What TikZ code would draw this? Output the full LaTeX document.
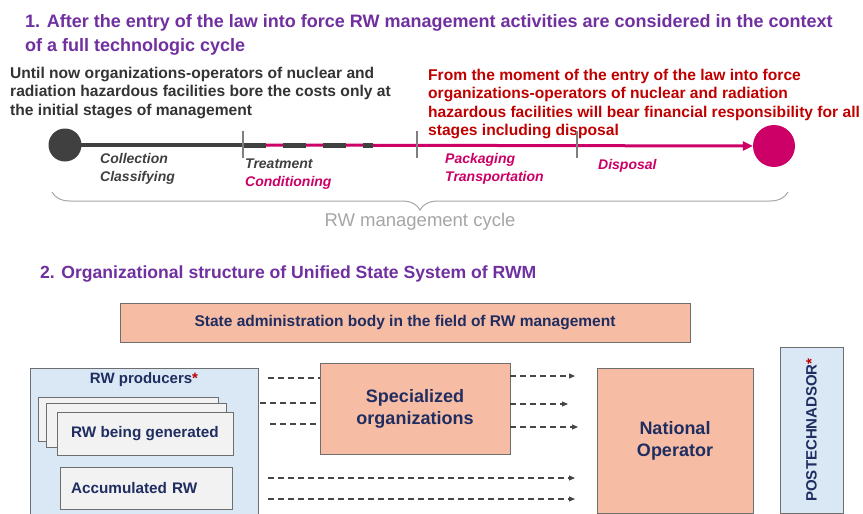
\documentclass[tikz,border=0pt]{standalone}
\usepackage{fontspec}
\setmainfont{Liberation Sans}
\usetikzlibrary{arrows.meta, positioning, decorations.pathreplacing}

\definecolor{titlepurple}{RGB}{112,48,160}
\definecolor{notegray}{RGB}{51,51,51}
\definecolor{lawred}{RGB}{192,0,0}
\definecolor{cyclepink}{RGB}{204,0,102}
\definecolor{stagegray}{RGB}{64,64,64}
\definecolor{tickgray}{RGB}{127,127,127}
\definecolor{bracegray}{RGB}{166,166,166}
\definecolor{navytext}{RGB}{31,45,96}
\definecolor{salmonfill}{RGB}{246,188,164}
\definecolor{paleblue}{RGB}{218,232,245}
\definecolor{palegray}{RGB}{242,242,242}
\definecolor{boxline}{RGB}{110,110,110}
\definecolor{flowgray}{RGB}{70,70,70}

\begin{document}
\begin{tikzpicture}[
    x=1pt, y=-1pt,
    heading/.style={anchor=north west, align=left, inner sep=0pt, text=titlepurple, font=\fontsize{18}{24}\selectfont\bfseries},
    note/.style={anchor=north west, align=left, inner sep=0pt, font=\fontsize{15.6}{18.4}\selectfont\bfseries},
    stage/.style={anchor=north west, align=left, inner sep=0pt, font=\fontsize{14}{18}\selectfont\bfseries\itshape},
    tickmark/.style={draw=tickgray, line width=2pt},
    orgbox/.style={rectangle, draw=boxline, fill=salmonfill, line width=0.8pt, text=navytext, align=center, font=\fontsize{18}{22}\selectfont\bfseries},
    groupbox/.style={rectangle, draw=boxline, fill=paleblue, line width=0.8pt},
    wastebox/.style={rectangle, draw=boxline, fill=palegray, line width=0.8pt, text=navytext, font=\fontsize{15.3}{17}\selectfont\bfseries},
    flow/.style={draw=flowgray, line width=1.1pt, dash pattern=on 6pt off 4pt},
    flowarrow/.style={flow, -{Triangle[length=6pt, width=5pt]}}
]
\path[use as bounding box, fill=white] (0,0) rectangle (863,514);

% Part 1: full cycle
\node[heading] (title1) at (25,14) {1. After the entry of the law into force RW management activities are considered in the context\\of a full technologic cycle};

\node[note, text=notegray] (before) at (10,67) {Until now organizations-operators of nuclear and\\radiation hazardous facilities bore the costs only at\\the initial stages of management};
\node[note, text=lawred] (after) at (428,69) {From the moment of the entry of the law into force\\organizations-operators of nuclear and radiation\\hazardous facilities will bear financial responsibility for all\\stages including disposal};

% Timeline
\node[circle, fill=stagegray, minimum size=33pt, inner sep=0pt] (startdot) at (65,145) {};
\node[circle, fill=cyclepink, minimum size=42pt, inner sep=0pt] (enddot) at (774,146) {};
\coordinate (t1) at (243,145);
\coordinate (t2) at (417,145);
\coordinate (t3) at (577,145);
\coordinate (dashend) at (373,145);

\draw[stagegray, line width=4.5pt] (startdot.center) -- (t1);
\draw[cyclepink, line width=3pt, -{Triangle[length=10pt, width=9pt]}] (t1) -- (enddot.west);
\draw[stagegray, line width=5pt, dash pattern=on 23pt off 17pt] (t1) -- (dashend);
\foreach \n in {t1, t2, t3}
    \draw[tickmark] ([yshift=14pt]\n) -- ([yshift=-13pt]\n);

\node[stage, text=stagegray] (collect) at (100,153) {Collection\\Classifying};
\node[stage, text=stagegray] (treat) at (245,159) {Treatment\\\textcolor{cyclepink}{Conditioning}};
\node[stage, text=cyclepink] (pack) at (445,153) {Packaging\\Transportation};
\node[stage, text=cyclepink] (dispose) at (598,159) {Disposal};

% Brace
\draw[bracegray, line width=1pt, decorate, decoration={brace, mirror, amplitude=18pt}] (52,192) -- (788,192);
\node[text=bracegray, font=\fontsize{18.5}{20}\selectfont] (cyclelabel) at (420,222) {RW management cycle};

% Part 2: organizational structure
\node[heading, font=\fontsize{17.6}{22}\selectfont\bfseries] (title2) at (40,266) {2. Organizational structure of Unified State System of RWM};

\node[orgbox, minimum width=570pt, minimum height=39pt, font=\fontsize{15.5}{17}\selectfont\bfseries] (stateadm) at (405,322.5) {State administration body in the field of RW management};

\node[groupbox, minimum width=228pt, minimum height=152pt] (producers) at (144,444) {};
\node[below=1pt of producers.north, text=navytext, font=\fontsize{15}{17}\selectfont\bfseries] (prodtitle) {RW producers\textcolor{lawred}{*}};
\node[wastebox, minimum width=180pt, minimum height=44pt] (wasteback) at (128,419) {};
\node[wastebox, minimum width=180pt, minimum height=44pt] (wastemid) at (136,425) {};
\node[wastebox, minimum width=176pt, minimum height=43pt] (wastefront) at (145,433.5) {RW being generated};
\node[wastebox, minimum width=172pt, minimum height=42pt, text width=150pt, align=left] (accumulated) at (146,488) {Accumulated RW};

\node[orgbox, minimum width=190pt, minimum height=91pt] (specorg) at (415,408.5) {Specialized\\organizations};
\node[orgbox, minimum width=156pt, minimum height=145pt] (natop) at (675,440.5) {National\\Operator};
\node[groupbox, rotate=90, minimum width=166pt, minimum height=63pt, text=navytext, font=\fontsize{15}{17}\selectfont\bfseries] (rostech) at (811.5,430) {POSTECHNADSOR\textcolor{lawred}{*}};

% Flows
\foreach \xa/\ya [count=\i] in {268/378, 260/403, 270/424} {
    \coordinate (feed\i) at (\xa,\ya);
    \draw[flow] (feed\i) -- (specorg.west |- feed\i);
}
\foreach \xb/\yb [count=\i] in {575/376, 568/404, 578/427} {
    \coordinate (hand\i) at (\xb,\yb);
    \draw[flowarrow] (specorg.east |- hand\i) -- (hand\i);
}
\foreach \yc [count=\i] in {478, 499} {
    \coordinate (direct\i) at (268,\yc);
    \coordinate (directend\i) at (575,\yc);
    \draw[flowarrow] (direct\i) -- (directend\i);
}

\end{tikzpicture}
\end{document}
